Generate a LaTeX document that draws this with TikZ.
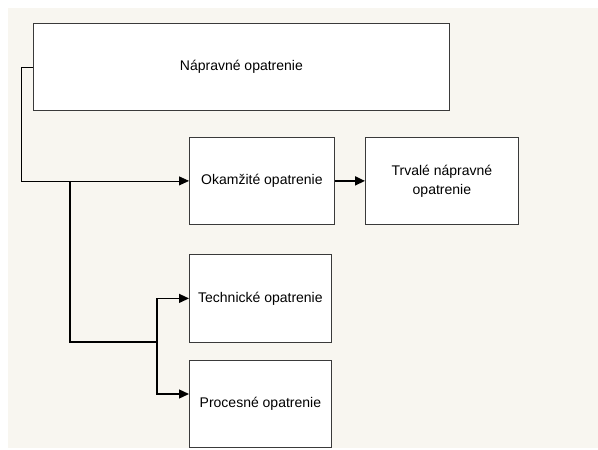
\documentclass[tikz,border=0pt]{standalone}
\usepackage{fontspec}
\setmainfont{Liberation Sans}
\usetikzlibrary{arrows.meta}
\definecolor{bgbeige}{HTML}{F8F6F0}
\definecolor{boxline}{HTML}{3A3A3A}
\begin{document}
\begin{tikzpicture}[x=1pt,y=-1pt,
  box/.style={draw=boxline,line width=0.8pt,fill=white,anchor=north west,inner sep=0pt,
    font=\fontsize{14}{19}\selectfont,align=center},
  thinline/.style={draw=black,line width=0.8pt},
  conn/.style={draw=black,line width=1.3pt},
  arr/.style={-{Triangle[length=10pt,width=9pt]}}]
\fill[white] (0,0) rectangle (598,450);
\fill[bgbeige] (8,8) rectangle (598,448);
\useasboundingbox (0,0) rectangle (598,450);
\node[box,minimum width=416pt,minimum height=87pt] (main) at (33,23) {Nápravné opatrenie};
\node[box,minimum width=145pt,minimum height=87pt] (okam) at (189,137) {Okamžité opatrenie};
\node[box,minimum width=153pt,minimum height=87pt] (trv) at (365,137) {Trvalé nápravné\\opatrenie};
\node[box,minimum width=142pt,minimum height=88pt] (tech) at (189,254) {Technické opatrenie};
\node[box,minimum width=142pt,minimum height=87pt] (proc) at (189,360) {Procesné opatrenie};
\coordinate (j1) at (70,181);
\coordinate (j2) at (157,342);
\coordinate (pa) at (189,394);
\draw[thinline,arr] (main.west) -- ++(-12,0) |- (okam.west);
\draw[conn,line width=1.8pt,arr] (okam.east) -- (trv.west);
\draw[conn] (j1) |- (j2);
\draw[conn,arr] (j2) |- (tech.west);
\draw[conn,arr] (j2) |- (pa);
\end{tikzpicture}
\end{document}
